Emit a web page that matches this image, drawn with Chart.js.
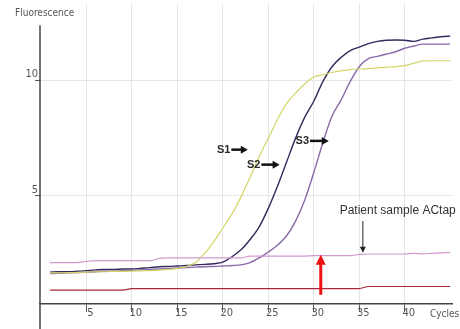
<!DOCTYPE html>
<html>
<head>
<meta charset="utf-8">
<script src="https://cdn.jsdelivr.net/npm/chart.js@4.4.1/dist/chart.umd.min.js"></script>
<style>
    body { margin: 0; background: #fff; }
    canvas { display: block; }
</style>
</head>
<body>
<canvas id="myChart" width="460" height="329"></canvas>
<script>
const cycles = [
    1, 2, 3, 4, 5, 6, 7, 8, 9, 10, 11, 12, 13, 14, 15, 16, 17, 18, 19, 20, 21, 22, 23,
    24, 25, 26, 27, 28, 29, 30, 31, 32, 33, 34, 35, 36, 37, 38, 39, 40, 41, 42, 43, 44, 45,
];
const s1 = [
    1.65, 1.65, 1.66, 1.67, 1.68, 1.7, 1.7, 1.72, 1.72, 1.73, 1.74, 1.75, 1.77, 1.8, 1.85,
    1.92, 2.1, 2.5, 3.0, 3.6, 4.2, 4.95, 5.8, 6.7, 7.5, 8.3, 9.0, 9.45, 9.85, 10.15, 10.25,
    10.35, 10.42, 10.47, 10.5, 10.52, 10.55, 10.58, 10.6, 10.65, 10.75, 10.85, 10.86, 10.86, 10.86,
];
const s2 = [
    1.68, 1.7, 1.7, 1.72, 1.75, 1.78, 1.8, 1.8, 1.82, 1.82, 1.85, 1.88, 1.92, 1.93, 1.95,
    1.97, 2.0, 2.02, 2.05, 2.12, 2.35, 2.65, 3.1, 3.65, 4.45, 5.4, 6.45, 7.5, 8.4, 9.1, 9.95,
    10.6, 11.0, 11.3, 11.45, 11.6, 11.7, 11.75, 11.76, 11.75, 11.7, 11.8, 11.85, 11.9, 11.93,
];
const s3 = [
    1.62, 1.63, 1.65, 1.66, 1.68, 1.7, 1.72, 1.72, 1.75, 1.76, 1.78, 1.8, 1.82, 1.84, 1.86,
    1.88, 1.9, 1.92, 1.93, 1.95, 1.97, 2.0, 2.1, 2.3, 2.55, 2.85, 3.25, 3.9, 4.8, 6.0, 7.3,
    8.45, 9.15, 9.95, 10.6, 10.95, 11.05, 11.15, 11.25, 11.4, 11.5, 11.58, 11.58, 11.58, 11.58,
];
const patient = [
    2.1, 2.1, 2.1, 2.1, 2.15, 2.18, 2.18, 2.18, 2.18, 2.18, 2.18, 2.18, 2.28, 2.3, 2.3,
    2.3, 2.3, 2.3, 2.3, 2.3, 2.3, 2.3, 2.38, 2.38, 2.38, 2.38, 2.38, 2.38, 2.38, 2.4, 2.4,
    2.4, 2.4, 2.4, 2.45, 2.47, 2.47, 2.47, 2.47, 2.47, 2.5, 2.48, 2.5, 2.52, 2.54,
];
const negative = [
    0.9, 0.9, 0.9, 0.9, 0.9, 0.9, 0.9, 0.9, 0.9, 0.97, 0.97, 0.97, 0.97, 0.97, 0.97,
    0.97, 0.97, 0.97, 0.97, 0.97, 0.97, 0.97, 0.97, 0.97, 0.97, 0.97, 0.97, 0.97, 0.97, 0.97, 0.97,
    0.97, 0.97, 0.97, 0.97, 1.06, 1.06, 1.06, 1.06, 1.06, 1.06, 1.06, 1.06, 1.06, 1.06,
];
const xTicks = [5, 10, 15, 20, 25, 30, 35, 40];
const yTicks = [5, 10];

// labels and arrows, placed in data units
const labels = [
    { text: "S1", x: 19.35, y: 7.0, arrowTo: 22.75 },
    { text: "S2", x: 22.65, y: 6.35, arrowTo: 26.25 },
    { text: "S3", x: 28.0, y: 7.38, arrowTo: 31.65 },
];

const toPoints = (arr) => arr.map((v, i) => ({ x: cycles[i], y: v }));

const overlay = {
    id: "overlay",
    afterDatasetsDraw(chart) {
        const { ctx, scales } = chart;
        const xs = scales.x;
        const ys = scales.y;
        ctx.save();

        // left axis line runs past the x axis to the bottom edge
        ctx.strokeStyle = "#444";
        ctx.lineWidth = 1.5;
        ctx.beginPath();
        ctx.moveTo(xs.left, ys.getPixelForValue(12.4));
        ctx.lineTo(xs.left, chart.height);
        ctx.stroke();

        ctx.fillStyle = "#555";
        ctx.font = "10px 'Liberation Sans Narrow', 'DejaVu Sans Condensed', sans-serif";
        ctx.textBaseline = "middle";
        ctx.textAlign = "left";
        ctx.fillText("Fluorescence", 15, 13);
        ctx.fillText("Cycles", 430, 314);

        // S1..S3 with thick arrows
        ctx.font = "bold 11px 'Liberation Sans', Arial, sans-serif";
        labels.forEach((l) => {
            const px = xs.getPixelForValue(l.x);
            const py = ys.getPixelForValue(l.y);
            const end = xs.getPixelForValue(l.arrowTo);
            ctx.fillStyle = "#2a2a2a";
            ctx.fillText(l.text, px, py);
            const start = px + ctx.measureText(l.text).width + 1;
            ctx.strokeStyle = "#111";
            ctx.lineWidth = 2.5;
            ctx.beginPath();
            ctx.moveTo(start, py);
            ctx.lineTo(end - 5, py);
            ctx.stroke();
            ctx.fillStyle = "#111";
            ctx.beginPath();
            ctx.moveTo(end, py);
            ctx.lineTo(end - 7, py - 4);
            ctx.lineTo(end - 7, py + 4);
            ctx.closePath();
            ctx.fill();
        });

        // patient sample note
        ctx.font = "12px 'Liberation Sans', Arial, sans-serif";
        ctx.fillStyle = "#333";
        ctx.fillText("Patient sample ACtap", xs.getPixelForValue(32.85), ys.getPixelForValue(4.37));
        const ax = xs.getPixelForValue(35.4);
        const ay1 = ys.getPixelForValue(3.9);
        const ay2 = ys.getPixelForValue(2.53);
        ctx.strokeStyle = "#222";
        ctx.lineWidth = 1;
        ctx.beginPath();
        ctx.moveTo(ax, ay1);
        ctx.lineTo(ax, ay2 - 5);
        ctx.stroke();
        ctx.fillStyle = "#222";
        ctx.beginPath();
        ctx.moveTo(ax, ay2);
        ctx.lineTo(ax - 3, ay2 - 6);
        ctx.lineTo(ax + 3, ay2 - 6);
        ctx.closePath();
        ctx.fill();

        // red arrow pointing up at the patient curve
        const rx = xs.getPixelForValue(30.77);
        const ry1 = ys.getPixelForValue(0.7);
        const ry2 = ys.getPixelForValue(2.44);
        ctx.strokeStyle = "#ee1111";
        ctx.lineWidth = 3;
        ctx.beginPath();
        ctx.moveTo(rx, ry1);
        ctx.lineTo(rx, ry2 + 7);
        ctx.stroke();
        ctx.fillStyle = "#ee1111";
        ctx.beginPath();
        ctx.moveTo(rx, ry2);
        ctx.lineTo(rx - 5, ry2 + 10);
        ctx.lineTo(rx + 5, ry2 + 10);
        ctx.closePath();
        ctx.fill();

        ctx.restore();
    },
};

const line = (label, data, color, width) => ({
    label: label,
    data: toPoints(data),
    borderColor: color,
    backgroundColor: color,
    borderWidth: width,
    pointRadius: 0,
    cubicInterpolationMode: "monotone",
});

const ctx = document.getElementById("myChart");
const myChart = new Chart(ctx, {
    type: "line",
    data: {
        datasets: [
            line("Negative", negative, "#a8283a", 1.2),
            line("Patient", patient, "#cf9ad0", 1.2),
            line("S1", s1, "#d4d468", 1.2),
            line("S3", s3, "#8a6aa8", 1.4),
            line("S2", s2, "#342a5e", 1.4),
        ],
    },
    options: {
        responsive: false,
        animation: false,
        layout: { padding: { top: 0, right: 8, left: 0, bottom: 0 } },
        plugins: {
            legend: { display: false },
            tooltip: { enabled: false },
        },
        scales: {
            x: {
                type: "linear",
                min: -0.1,
                max: 45.2,
                afterBuildTicks: (axis) => {
                    axis.ticks = xTicks.map((v) => ({ value: v }));
                },
                afterFit: (axis) => {
                    axis.height = 25;
                },
                grid: {
                    color: "#e6e6e6",
                    tickColor: "#555",
                    tickLength: 8,
                },
                border: { color: "#444", width: 1.5 },
                ticks: {
                    color: "#555",
                    padding: -5,
                    labelOffset: 4,
                    maxRotation: 0,
                    font: { family: "'Liberation Sans Narrow', 'DejaVu Sans Condensed', sans-serif", size: 11 },
                },
            },
            y: {
                min: 0.3,
                max: 13.34,
                afterBuildTicks: (axis) => {
                    axis.ticks = yTicks.map((v) => ({ value: v }));
                },
                afterFit: (axis) => {
                    axis.width = 40;
                },
                grid: {
                    color: "#e6e6e6",
                    tickColor: "#555",
                    tickLength: 5,
                },
                border: { display: false },
                ticks: {
                    color: "#555",
                    padding: -3,
                    labelOffset: -6,
                    font: { family: "'Liberation Sans Narrow', 'DejaVu Sans Condensed', sans-serif", size: 11 },
                },
            },
        },
    },
    plugins: [overlay],
});
</script>
</body>
</html>
